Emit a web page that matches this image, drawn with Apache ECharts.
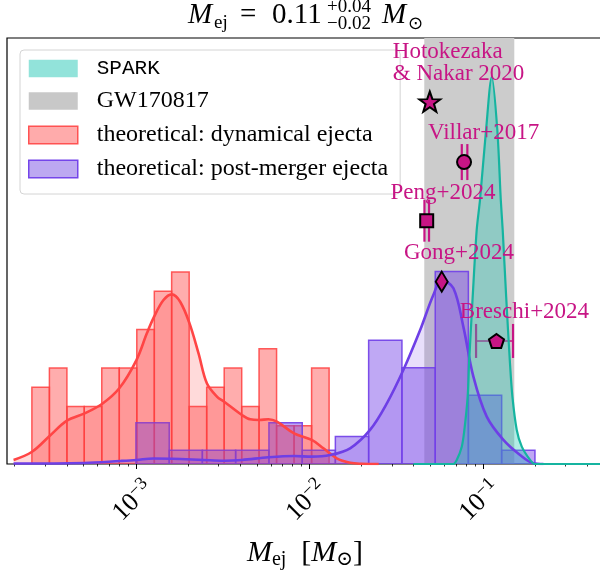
<!DOCTYPE html>
<html>
<head>
<meta charset="utf-8">
<script src="https://cdn.jsdelivr.net/npm/echarts@6/dist/echarts.min.js"></script>
<style>
html, body { margin: 0; padding: 0; background: #ffffff; }
#chart { width: 600px; height: 572px; }
</style>
</head>
<body>
<div id="chart"></div>
<script>
// x values are log10(M_ej / M_sun); y values are probability density in log space

const xMinLog = -3.7435;
const xMaxLog = -0.3066;
const yMax = 3.365;

// major ticks and their exponents
const majorTicks = [-3, -2, -1];
const tickExponents = ['\u22123', '\u22122', '\u22121'];

// dynamical ejecta: bin edges and densities
const dynEdges = [-3.6, -3.499, -3.398, -3.298, -3.197, -3.096, -2.995, -2.894, -2.794,
                  -2.693, -2.592, -2.491, -2.390, -2.290, -2.189, -2.088, -1.987, -1.886];
const dynDensity = [0.607, 0.758, 0.455, 0.455, 0.758, 0.758, 1.062, 1.365, 1.517,
                    0.455, 0.607, 0.758, 0.455, 0.910, 0.303, 0.303, 0.758];

// post-merger ejecta: bin edges and densities
const pmEdges = [-3.0, -2.808, -2.617, -2.425, -2.233, -2.041, -1.850, -1.658, -1.466,
                 -1.274, -1.083, -0.891, -0.699];
const pmDensity = [0.326, 0.109, 0.109, 0.109, 0.326, 0.109, 0.217, 0.978, 0.761,
                   1.521, 0.543, 0.109];

// smoothed density of dynamical ejecta
const dynKdeX = [-3.7055, -3.599, -3.498, -3.398, -3.296, -3.196, -3.096, -2.997, -2.937, -2.895,
                 -2.841, -2.793, -2.745, -2.691, -2.639, -2.591, -2.533, -2.491, -2.389, -2.341,
                 -2.289, -2.236, -2.187, -2.088, -1.986, -1.919, -1.842, -1.765, -1.70, -1.60];
const dynKdeY = [0.032, 0.097, 0.221, 0.342, 0.400, 0.474, 0.598, 0.821, 1.032, 1.164,
                 1.295, 1.340, 1.282, 1.111, 0.874, 0.637, 0.532, 0.492, 0.387, 0.353,
                 0.348, 0.353, 0.334, 0.242, 0.190, 0.124, 0.045, 0.010, 0.002, 0.0];

// smoothed density of post-merger ejecta
const pmKdeX = [-3.7055, -3.298, -3.09, -2.997, -2.899, -2.793, -2.610, -2.491, -2.389, -2.236,
                -2.088, -1.986, -1.880, -1.765, -1.650, -1.553, -1.458, -1.361, -1.285, -1.236,
                -1.169, -1.112, -1.054, -0.977, -0.881, -0.785, -0.708, -0.65];
const pmKdeY = [0.004, 0.008, 0.024, 0.032, 0.043, 0.042, 0.032, 0.026, 0.032, 0.053,
                0.063, 0.058, 0.071, 0.124, 0.269, 0.479, 0.742, 1.058, 1.335, 1.453,
                1.388, 1.085, 0.690, 0.374, 0.190, 0.071, 0.006, 0.0];

// SPARK posterior
const sparkX = [-1.40, -1.1695, -1.150, -1.121, -1.106, -1.087, -1.079, -1.058, -1.035, -1.016,
                -0.981, -0.948, -0.916, -0.896, -0.885, -0.865, -0.843, -0.829, -0.804, -0.775,
                -0.727, -0.699, -0.30];
const sparkY = [0.0, 0.0, 0.032, 0.137, 0.269, 0.532, 0.795, 1.322, 1.848, 2.085,
                2.638, 3.059, 2.638, 2.085, 1.848, 1.322, 0.795, 0.532, 0.269, 0.137,
                0.032, 0.0, 0.0];

// GW170817 ejecta mass range [M_sun]
const gwRange = [0.046, 0.152];

// literature estimates [M_sun]
const refNames = ['Hotokezaka\n& Nakar 2020', 'Villar+2017', 'Peng+2024', 'Gong+2024', 'Breschi+2024'];
const refMass = [0.0495, 0.078, 0.0475, 0.058, 0.12];
const refLow = [null, 0.0757, 0.0461, null, 0.0915];
const refHigh = [null, 0.0815, 0.049, null, 0.1495];
const refHeight = [2.862, 2.385, 1.922, 1.44, 0.972];

// ---------------------------------------------------------------------
const serif = "'Liberation Serif', 'DejaVu Serif', serif";
const mono = "'Liberation Mono', 'DejaVu Sans Mono', monospace";
const magenta = '#c71585';

const log10 = Math.log10;
const pairs = (xs, ys) => xs.map((x, i) => [x, ys[i]]);

const minorTicks = [];
for (let e = -4; e <= 0; e++) {
  for (let k = 2; k <= 9; k++) {
    const v = log10(k) + e;
    if (v > xMinLog && v < xMaxLog) minorTicks.push(v);
  }
}

function histData(edges, dens) {
  return dens.map((d, i) => [edges[i], edges[i + 1], d]);
}

function histRender(fill, stroke) {
  return function (params, api) {
    const p0 = api.coord([api.value(0), 0]);
    const p1 = api.coord([api.value(1), api.value(2)]);
    return {
      type: 'rect',
      shape: { x: p0[0], y: p1[1], width: p1[0] - p0[0], height: p0[1] - p1[1] },
      style: { fill: fill, stroke: stroke, lineWidth: 1.5 }
    };
  };
}

const starPath = 'path://M0,-10L2.35,-3.24L9.51,-3.09L3.8,1.24L5.88,8.09L0,4L-5.88,8.09L-3.8,1.24L-9.51,-3.09L-2.35,-3.24Z';
const pentPath = 'path://M0,-10L9.51,-3.09L5.88,8.09L-5.88,8.09L-9.51,-3.09Z';
const refSymbols = [starPath, 'circle', 'rect', 'diamond', pentPath];
const refSizes = [[21, 20], 14, 13, [12, 20], [15, 14]];
const labelOffsets = [[-37, -39], [19.5, -29], [16.3, -27.5], [17.3, -29], [28, -28.5]];
const capHalf = [18, 18, 21, 18, 17];

const refPoints = refNames.map((n, i) => ({
  name: n,
  value: [log10(refMass[i]), refHeight[i]],
  symbol: refSymbols[i],
  symbolSize: refSizes[i],
  label: {
    show: true,
    position: 'inside',
    offset: labelOffsets[i],
    align: i === 0 ? 'left' : 'center',
    verticalAlign: 'middle',
    formatter: n,
    color: magenta,
    fontFamily: serif,
    fontSize: 23,
    lineHeight: 22
  }
}));

const errData = [];
refNames.forEach((n, i) => {
  if (refLow[i] !== null) errData.push([log10(refLow[i]), log10(refHigh[i]), refHeight[i], capHalf[i]]);
});

const chart = echarts.init(document.getElementById('chart'), null, { renderer: 'canvas' });

const option = {
  animation: false,
  grid: {
    left: 7, right: -3, top: 38, bottom: 108,
    outerBoundsMode: 'none',
    containLabel: false,
    show: true, borderColor: '#000', borderWidth: 1.2, backgroundColor: 'transparent'
  },
  xAxis: [{
    type: 'value', min: xMinLog, max: xMaxLog,
    splitLine: { show: false },
    axisLine: { show: false },
    axisTick: { show: true, customValues: majorTicks, length: 5, lineStyle: { color: '#000', width: 1 } },
    axisLabel: {
      show: true,
      customValues: majorTicks,
      rotate: 45,
      align: 'center',
      verticalAlign: 'middle',
      margin: 34,
      formatter: function (v) {
        const i = majorTicks.indexOf(Math.round(v));
        return '{b|10}{s|' + tickExponents[i] + '}';
      },
      rich: {
        b: { fontFamily: serif, fontSize: 26, color: '#000', lineHeight: 30 },
        s: { fontFamily: serif, fontSize: 18, color: '#000', verticalAlign: 'top', lineHeight: 30, padding: [0, 8, 0, 0] }
      }
    },
    name: '{i|M}{s|ej}{r|  [}{i|M}{s|\u2299}{r|]}',
    nameLocation: 'middle',
    nameGap: 72,
    nameTextStyle: {
      rich: {
        i: { fontFamily: serif, fontStyle: 'italic', fontSize: 30, color: '#000', lineHeight: 34, verticalAlign: 'middle' },
        s: { fontFamily: serif, fontSize: 20, color: '#000', lineHeight: 15, verticalAlign: 'bottom' },
        r: { fontFamily: serif, fontSize: 30, color: '#000', lineHeight: 34, verticalAlign: 'middle' }
      }
    }
  }, {
    type: 'value', min: xMinLog, max: xMaxLog, gridIndex: 0, position: 'bottom',
    splitLine: { show: false },
    axisLine: { show: false },
    axisLabel: { show: false },
    axisTick: { show: true, customValues: minorTicks, length: 2.5, lineStyle: { color: '#000', width: 0.8 } }
  }],
  yAxis: {
    type: 'value', min: 0, max: yMax, show: false
  },
  legend: {
    orient: 'vertical',
    left: 20, top: 50,
    itemWidth: 49, itemHeight: 17.5, itemGap: 10,
    padding: [8, 12, 13, 8],
    borderColor: '#d4d4d4', borderWidth: 1, borderRadius: 4,
    backgroundColor: 'rgba(255,255,255,0.8)',
    icon: 'rect',
    textStyle: {
      fontFamily: serif, fontSize: 24, color: '#000', lineHeight: 20, padding: [0, 0, 0, 14],
      rich: { mono: { fontFamily: mono, fontSize: 21, color: '#000', lineHeight: 20 } }
    },
    formatter: function (n) { return n === 'SPARK' ? '{mono|SPARK}' : n; },
    data: [
      { name: 'SPARK', itemStyle: { color: '#92e3da', borderWidth: 0 } },
      { name: 'GW170817', itemStyle: { color: '#c8c8c8', borderWidth: 0 } },
      { name: 'theoretical: dynamical ejecta', itemStyle: { color: '#ffabab', borderColor: '#ff5252', borderWidth: 1.5 } },
      { name: 'theoretical: post-merger ejecta', itemStyle: { color: '#bca8f1', borderColor: '#7445ea', borderWidth: 1.5 } }
    ]
  },
  graphic: [
    // title: M_ej = 0.11^{+0.04}_{-0.02} M_sun
    { type: 'text', left: 188, top: 1, style: { text: 'M', font: "italic 29px " + serif, fill: '#000' } },
    { type: 'text', left: 214, top: 14, style: { text: 'ej', font: "19px " + serif, fill: '#000' } },
    { type: 'text', left: 240, top: 1, style: { text: '=', font: "29px " + serif, fill: '#000' } },
    { type: 'text', left: 272, top: 1, style: { text: '0.11', font: "29px " + serif, fill: '#000' } },
    { type: 'text', left: 327, top: -2, style: { text: '+0.04', font: "19px " + serif, fill: '#000' } },
    { type: 'text', left: 327, top: 15, style: { text: '\u22120.02', font: "19px " + serif, fill: '#000' } },
    { type: 'text', left: 382, top: 1, style: { text: 'M', font: "italic 29px " + serif, fill: '#000' } },
    { type: 'text', left: 408, top: 15, style: { text: '\u2299', font: "18px 'DejaVu Sans', sans-serif", fill: '#000' } }
  ],
  series: [
    {
      name: 'GW170817', type: 'custom', clip: true,
      data: [[log10(gwRange[0]), log10(gwRange[1])]],
      renderItem: function (params, api) {
        const p0 = api.coord([api.value(0), 0]);
        const p1 = api.coord([api.value(1), yMax]);
        return { type: 'rect', shape: { x: p0[0], y: p1[1], width: p1[0] - p0[0], height: p0[1] - p1[1] },
                 style: { fill: '#cccccc' } };
      },
      itemStyle: { color: '#c8c8c8' }
    },
    {
      name: 'theoretical: dynamical ejecta', type: 'custom', clip: true,
      data: histData(dynEdges, dynDensity),
      renderItem: histRender('rgba(255,64,64,0.43)', 'rgba(255,64,64,0.85)'),
      itemStyle: { color: '#ffabab' }
    },
    {
      name: 'dynamical density', type: 'line', smooth: 0.35, showSymbol: false, symbol: 'none',
      data: pairs(dynKdeX, dynKdeY),
      lineStyle: { color: '#ff4545', width: 2.6 },
      areaStyle: { color: 'rgba(255,64,64,0.28)', origin: 'start' }
    },
    {
      name: 'theoretical: post-merger ejecta', type: 'custom', clip: true,
      data: histData(pmEdges, pmDensity),
      renderItem: histRender('rgba(122,74,232,0.48)', 'rgba(112,62,232,0.9)'),
      itemStyle: { color: '#bca8f1' }
    },
    {
      name: 'post-merger density', type: 'line', smooth: 0.35, showSymbol: false, symbol: 'none',
      data: pairs(pmKdeX, pmKdeY),
      lineStyle: { color: '#6e3fe6', width: 2.6 },
      areaStyle: { color: 'rgba(122,74,232,0.25)', origin: 'start' }
    },
    {
      name: 'SPARK', type: 'line', smooth: 0.3, showSymbol: false, symbol: 'none',
      data: pairs(sparkX, sparkY),
      lineStyle: { color: '#15b4a0', width: 2.2 },
      areaStyle: { color: 'rgba(33,198,180,0.5)', origin: 'start' },
      itemStyle: { color: '#92e3da' }
    },
    {
      name: 'error bars', type: 'custom', clip: true,
      data: errData,
      renderItem: function (params, api) {
        const a = api.coord([api.value(0), api.value(2)]);
        const b = api.coord([api.value(1), api.value(2)]);
        const cap = api.value(3);
        return {
          type: 'group',
          children: [
            { type: 'line', shape: { x1: a[0], y1: a[1], x2: b[0], y2: b[1] }, style: { stroke: magenta, lineWidth: 1.5 } },
            { type: 'line', shape: { x1: a[0], y1: a[1] - cap, x2: a[0], y2: a[1] + cap }, style: { stroke: magenta, lineWidth: 2.2 } },
            { type: 'line', shape: { x1: b[0], y1: b[1] - cap, x2: b[0], y2: b[1] + cap }, style: { stroke: magenta, lineWidth: 2.2 } }
          ]
        };
      }
    },
    {
      name: 'estimates', type: 'scatter',
      data: refPoints,
      itemStyle: { color: magenta, borderColor: '#000', borderWidth: 2, opacity: 1 },
      z: 5
    }
  ]
};

chart.setOption(option);
</script>
</body>
</html>
